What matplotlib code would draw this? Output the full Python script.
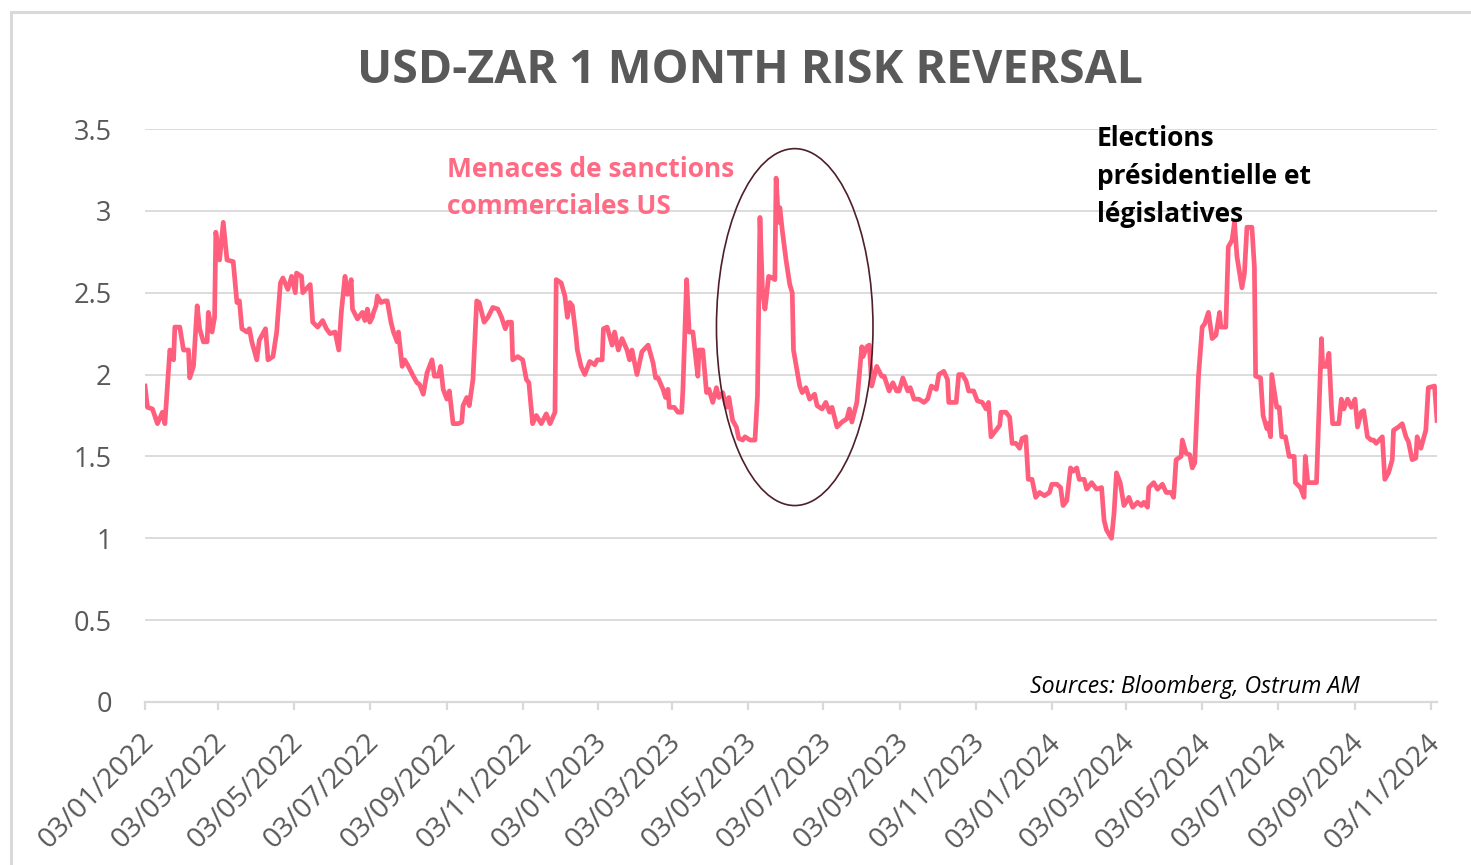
import matplotlib
matplotlib.use("Agg")
import matplotlib.pyplot as plt
import matplotlib.dates as mdates
from matplotlib.patches import Ellipse
from matplotlib.lines import Line2D
import matplotlib.transforms as mtransforms
import pandas as pd

W, H, DPI = 1471, 865, 100

# ---------------- data ----------------
start_date = "2022-01-03"
# days since start_date
day_offsets = [
    0, 2, 6, 10, 14, 16, 20, 23, 24, 28, 31, 35, 36, 39, 42, 44, 47, 50, 51, 54,
    56, 57, 60, 63, 66, 71, 74, 76, 78, 82, 84, 86, 90, 92, 97, 99, 103, 106, 109, 111,
    115, 118, 121, 122, 126, 127, 133, 135, 139, 143, 146, 149, 153, 156, 158, 161, 163, 166, 167, 171,
    175, 177, 179, 181, 183, 184, 186, 187, 190, 193, 195, 198, 200, 203, 204, 207, 209, 212, 216, 219,
    221, 224, 227, 231, 233, 236, 238, 240, 243, 245, 248, 252, 255, 256, 259, 261, 264, 267, 269, 273,
    276, 280, 284, 287, 290, 292, 295, 296, 300, 304, 307, 309, 312, 315, 319, 323, 326, 330, 331, 335,
    338, 340, 342, 344, 347, 348, 351, 354, 358, 362, 364, 368, 369, 372, 376, 378, 381, 384, 388, 390,
    392, 396, 398, 400, 405, 409, 411, 413, 417, 419, 421, 422, 426, 429, 432, 433, 436, 438, 441, 445,
    446, 449, 452, 454, 457, 460, 462, 465, 468, 470, 473, 476, 478, 481, 483, 487, 491, 493, 495, 497,
    499, 500, 502, 505, 507, 508, 510, 511, 513, 516, 519, 521, 522, 527, 529, 532, 535, 539, 541, 545,
    548, 551, 553, 557, 561, 565, 567, 569, 573, 577, 578, 581, 583, 585, 589, 593, 595, 599, 602, 605,
    607, 610, 614, 616, 619, 623, 627, 630, 633, 637, 639, 643, 646, 647, 651, 653, 655, 658, 661, 663,
    667, 670, 674, 677, 679, 681, 685, 688, 689, 693, 696, 698, 701, 704, 706, 709, 711, 714, 717, 720,
    724, 728, 730, 734, 737, 739, 742, 745, 747, 750, 752, 756, 758, 762, 766, 770, 772, 774, 778, 780,
    782, 785, 788, 792, 795, 799, 802, 804, 807, 808, 812, 815, 819, 822, 826, 828, 830, 834, 835, 838,
    841, 843, 845, 848, 851, 853, 856, 859, 862, 865, 866, 870, 872, 875, 877, 879, 883, 885, 887, 891,
    893, 894, 898, 900, 903, 904, 906, 907, 911, 913, 915, 918, 921, 925, 926, 930, 933, 934, 936, 943,
    947, 948, 951, 953, 955, 956, 961, 963, 965, 968, 971, 974, 976, 979, 981, 984, 987, 989, 991, 996,
    998, 1001, 1004, 1005, 1009, 1012, 1015, 1017, 1020, 1023, 1024, 1027, 1031, 1033, 1038, 1040,
]
rr_values = [
    1.93, 1.80, 1.79, 1.70, 1.77, 1.70, 2.15, 2.09, 2.29, 2.29, 2.15, 2.15, 1.98, 2.05, 2.42, 2.28, 2.20, 2.20, 2.38, 2.26,
    2.35, 2.87, 2.70, 2.93, 2.70, 2.69, 2.44, 2.45, 2.28, 2.26, 2.28, 2.20, 2.09, 2.21, 2.28, 2.09, 2.11, 2.26, 2.56, 2.59,
    2.52, 2.60, 2.50, 2.62, 2.60, 2.50, 2.55, 2.32, 2.29, 2.33, 2.28, 2.25, 2.26, 2.15, 2.38, 2.60, 2.49, 2.58, 2.40, 2.34,
    2.38, 2.33, 2.40, 2.32, 2.35, 2.38, 2.42, 2.48, 2.44, 2.45, 2.45, 2.32, 2.26, 2.20, 2.26, 2.05, 2.09, 2.05, 1.99, 1.95,
    1.94, 1.88, 2.01, 2.09, 1.99, 1.99, 2.05, 1.91, 1.85, 1.90, 1.70, 1.70, 1.71, 1.81, 1.86, 1.81, 1.97, 2.45, 2.44, 2.32,
    2.35, 2.41, 2.40, 2.35, 2.28, 2.32, 2.32, 2.09, 2.11, 2.09, 1.97, 1.95, 1.70, 1.75, 1.70, 1.76, 1.70, 1.77, 2.58, 2.56,
    2.48, 2.35, 2.44, 2.42, 2.23, 2.15, 2.05, 2.00, 2.08, 2.06, 2.09, 2.09, 2.28, 2.29, 2.18, 2.26, 2.15, 2.22, 2.15, 2.09,
    2.15, 2.00, 2.07, 2.14, 2.18, 2.07, 1.98, 1.98, 1.91, 1.86, 1.91, 1.80, 1.80, 1.77, 1.77, 1.91, 2.58, 2.26, 2.26, 1.99,
    2.15, 2.15, 1.89, 1.91, 1.83, 1.92, 1.86, 1.89, 1.80, 1.86, 1.72, 1.68, 1.61, 1.60, 1.62, 1.60, 1.60, 1.87, 2.96, 2.52,
    2.40, 2.46, 2.60, 2.59, 2.58, 3.20, 2.93, 3.02, 2.88, 2.70, 2.55, 2.50, 2.15, 1.93, 1.89, 1.92, 1.85, 1.88, 1.81, 1.79,
    1.83, 1.77, 1.80, 1.68, 1.71, 1.73, 1.79, 1.71, 1.83, 2.17, 2.11, 2.17, 2.18, 1.93, 2.05, 1.99, 1.99, 1.90, 1.95, 1.90,
    1.90, 1.98, 1.90, 1.92, 1.85, 1.85, 1.83, 1.85, 1.93, 1.91, 2.00, 2.02, 1.97, 1.83, 1.83, 1.83, 2.00, 2.00, 1.96, 1.90,
    1.90, 1.84, 1.83, 1.79, 1.83, 1.62, 1.66, 1.69, 1.77, 1.77, 1.74, 1.58, 1.58, 1.55, 1.61, 1.62, 1.36, 1.36, 1.25, 1.28,
    1.26, 1.28, 1.33, 1.33, 1.31, 1.20, 1.23, 1.43, 1.41, 1.43, 1.36, 1.36, 1.30, 1.34, 1.30, 1.31, 1.11, 1.05, 1.00, 1.15,
    1.40, 1.34, 1.20, 1.25, 1.19, 1.22, 1.20, 1.22, 1.19, 1.31, 1.34, 1.30, 1.33, 1.28, 1.28, 1.25, 1.48, 1.50, 1.60, 1.52,
    1.51, 1.43, 1.46, 1.99, 2.29, 2.31, 2.38, 2.22, 2.24, 2.38, 2.29, 2.29, 2.78, 2.82, 2.93, 2.72, 2.53, 2.62, 2.90, 2.90,
    2.66, 1.99, 1.98, 1.75, 1.67, 1.70, 1.62, 2.00, 1.80, 1.80, 1.62, 1.62, 1.50, 1.50, 1.34, 1.31, 1.25, 1.50, 1.34, 1.34,
    2.22, 2.05, 2.05, 2.13, 1.81, 1.70, 1.70, 1.85, 1.79, 1.85, 1.80, 1.85, 1.68, 1.77, 1.78, 1.62, 1.60, 1.60, 1.58, 1.62,
    1.36, 1.40, 1.48, 1.66, 1.68, 1.70, 1.62, 1.59, 1.48, 1.49, 1.62, 1.55, 1.66, 1.92, 1.93, 1.72,
]

tick_dates = pd.date_range("2022-01-03", "2024-11-03", freq=pd.DateOffset(months=2))
y_ticks = [0, 0.5, 1, 1.5, 2, 2.5, 3, 3.5]

title_text = "USD-ZAR 1 MONTH RISK REVERSAL"
sanctions_lines = ["Menaces de sanctions", "commerciales US"]
elections_lines = ["Elections", "présidentielle et", "législatives"]
source_text = "Sources: Bloomberg, Ostrum AM"

# highlighted window (ellipse) around the 2023 sanctions spike
ellipse_center_date = "2023-06-10"
ellipse_center_value = 2.29
ellipse_width_days = 126
ellipse_height_value = 2.18

# ---------------- style ----------------
LINE_COLOR = "#FF5F7D"
NOTE_COLOR = "#FF6B85"
GRID_COLOR = "#D9D9D9"
TICK_COLOR = "#595959"
ELLIPSE_COLOR = "#4D1F28"
FONT = "Open Sans"

dates = pd.Timestamp(start_date) + pd.to_timedelta(day_offsets, unit="D")

fig = plt.figure(figsize=(W / DPI, H / DPI), dpi=DPI)
fig.patch.set_facecolor("white")

def fx(px):
    return px / W

def fy(py):
    return 1 - py / H

# outer frame (left and top visible)
fig.add_artist(Line2D([fx(11), fx(11)], [fy(12), fy(870)], color="#D9D9D9", lw=2.2,
                      transform=fig.transFigure))
fig.add_artist(Line2D([fx(11), fx(1480)], [fy(12), fy(12)], color="#D9D9D9", lw=2.2,
                      transform=fig.transFigure))

ax = fig.add_axes([fx(145), fy(702), fx(1437) - fx(145), fy(129) - fy(702)])
ax.set_facecolor("none")

ax.plot(dates, rr_values, color=LINE_COLOR, lw=3.4, solid_joinstyle="round", zorder=3)

ax.set_ylim(0, 3.5)
ax.set_xlim(dates[0], dates[-1])
ax.set_yticks(y_ticks)
ax.set_yticklabels([f"{v:g}" for v in y_ticks])
ax.grid(axis="y", color=GRID_COLOR, lw=1.3, zorder=0)
ax.set_axisbelow(True)

for s in ["top", "right", "left"]:
    ax.spines[s].set_visible(False)
ax.spines["bottom"].set_color(GRID_COLOR)
ax.spines["bottom"].set_linewidth(1.6)

ax.set_xticks(tick_dates)
ax.xaxis.set_major_formatter(mdates.DateFormatter("%d/%m/%Y"))

# measure to size fonts
fig.canvas.draw()
renderer = fig.canvas.get_renderer()

def fit_size(text, target_w, base=20, **kw):
    t = fig.text(0, 0, text, fontsize=base, family=FONT, **kw)
    w = t.get_window_extent(renderer).width
    t.remove()
    return base * target_w / w

tick_fs = fit_size("0.5", 38)

ax.tick_params(axis="y", length=0, pad=24, labelsize=tick_fs, labelcolor=TICK_COLOR)
ax.tick_params(axis="x", direction="out", length=6, width=1.6, color=GRID_COLOR,
               labelsize=tick_fs * 1.05, labelcolor=TICK_COLOR, pad=13)
for lbl in ax.get_yticklabels():
    lbl.set_family(FONT)
offset = mtransforms.ScaledTranslation(-5 / DPI, 0, fig.dpi_scale_trans)
for lbl in ax.get_xticklabels():
    lbl.set_family(FONT)
    lbl.set_rotation(45)
    lbl.set_ha("right")
    lbl.set_va("top")
    lbl.set_rotation_mode("anchor")
    lbl.set_transform(lbl.get_transform() + offset)

# ellipse
ell = Ellipse((mdates.date2num(pd.Timestamp(ellipse_center_date)), ellipse_center_value),
              width=ellipse_width_days, height=ellipse_height_value,
              fill=False, edgecolor=ELLIPSE_COLOR, lw=1.2, zorder=4)
ax.add_patch(ell)

# title
tfs = fit_size(title_text, 785, weight="bold")
fig.text(fx(750), fy(83), title_text, fontsize=tfs, weight="bold", color="#595959",
         family=FONT, ha="center", va="baseline")

# sanctions note
sfs = fit_size(sanctions_lines[0], 289, weight="bold")
for line, base_y in zip(sanctions_lines, [177, 214]):
    fig.text(fx(447), fy(base_y), line, fontsize=sfs, weight="bold", color=NOTE_COLOR,
             family=FONT, ha="left", va="baseline", zorder=5)

# elections note
efs = fit_size(elections_lines[1], 215, weight="bold")
for line, base_y in zip(elections_lines, [146, 184, 222]):
    fig.text(fx(1097), fy(base_y), line, fontsize=efs, weight="bold", color="black",
             family=FONT, ha="left", va="baseline", zorder=5)

# source
srcfs = fit_size(source_text, 329, style="italic")
fig.text(fx(1360), fy(693), source_text, fontsize=srcfs, style="italic", color="black",
         family=FONT, ha="right", va="baseline")

fig.savefig("out.png", dpi=DPI, facecolor="white")
